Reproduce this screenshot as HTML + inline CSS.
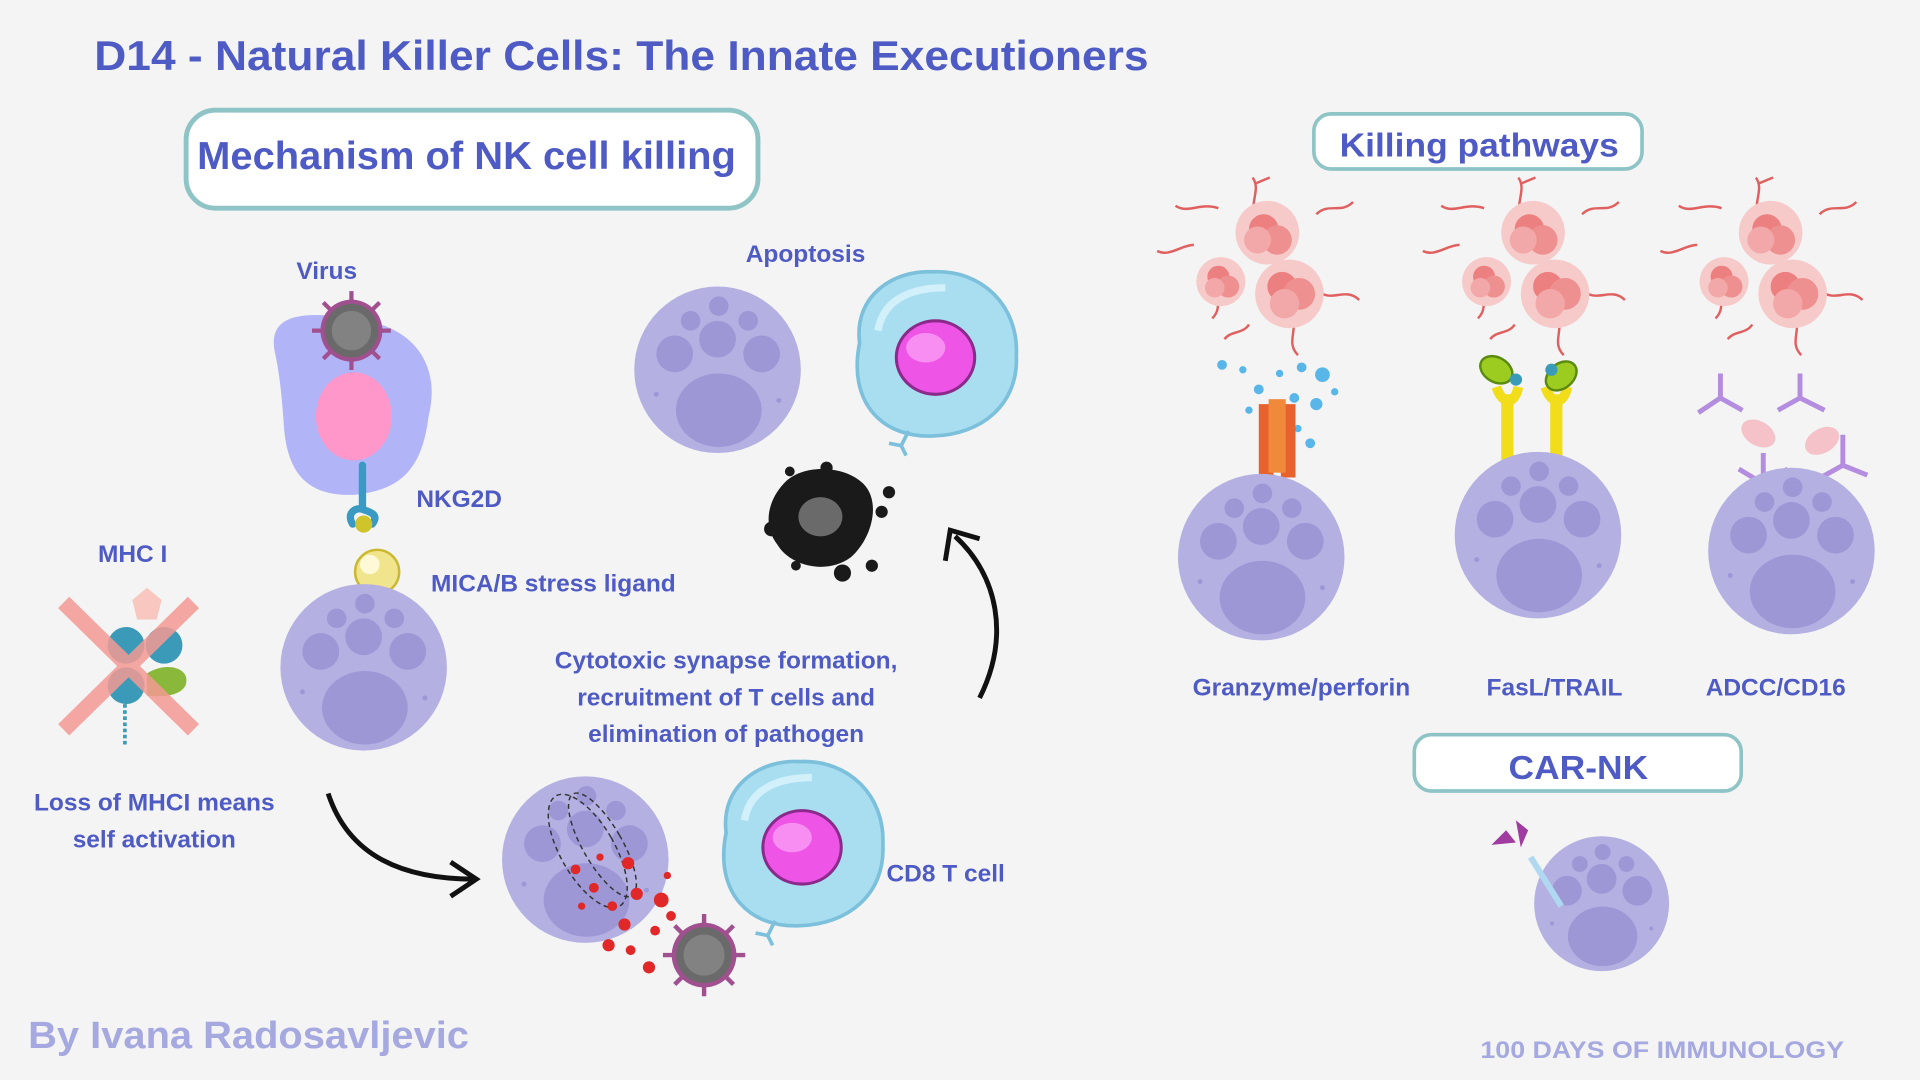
<!DOCTYPE html>
<html><head><meta charset="utf-8"><style>
html,body{margin:0;padding:0;background:#f4f4f4;}
svg{display:block}
text{font-family:"Liberation Sans",sans-serif;font-weight:bold;fill:#4f5bc4}
</style></head><body>
<svg width="1920" height="1080" viewBox="0 0 1568 882" xmlns="http://www.w3.org/2000/svg">
<defs>
<g id="nk">
<circle r="68" fill="#b4b0e2"/>
<ellipse cx="1" cy="33" rx="35" ry="30" fill="#9d97d6"/>
<circle cx="-35" cy="-13" r="15" fill="#9d97d6"/>
<circle cx="0" cy="-25" r="15" fill="#9d97d6"/>
<circle cx="36" cy="-13" r="15" fill="#9d97d6"/>
<circle cx="-22" cy="-40" r="8" fill="#9d97d6"/>
<circle cx="1" cy="-52" r="8" fill="#9d97d6"/>
<circle cx="25" cy="-40" r="8" fill="#9d97d6"/>
<circle cx="-50" cy="20" r="2" fill="#9d97d6"/>
<circle cx="50" cy="25" r="2" fill="#9d97d6"/>
</g>
<g id="tc">
<path d="M-60,-10 C-65,-50 -30,-70 0,-68 C40,-70 70,-40 68,0 C70,40 40,65 0,66 C-40,68 -70,40 -60,-10Z" fill="#a8def0" stroke="#7cc0dc" stroke-width="3"/>
<path d="M-45,-20 C-40,-50 -10,-55 10,-55" stroke="#d2f0fa" stroke-width="6" fill="none"/>
<ellipse cx="2" cy="2" rx="32" ry="30" fill="#ee55e6" stroke="#8a2a8a" stroke-width="2.5"/>
<ellipse cx="-6" cy="-6" rx="16" ry="12" fill="#f98ef2"/>
<path d="M-20,62 l-6,12 M-26,74 l-10,-2 M-26,74 l4,8" stroke="#7cc0dc" stroke-width="3" fill="none"/>
</g>
<g id="virus">
<circle r="22" fill="#a0508e"/>
<circle r="19" fill="#6a6a6a"/>
<circle r="14" fill="#888" opacity="0.8"/>
<g stroke="#a0508e" stroke-width="3">
<path d="M0,-20v-8M0,20v8M-20,0h-8M20,0h8M14,14l6,6M-14,-14l-6,-6M14,-14l6,-6M-14,14l-6,6"/>
</g>
</g>
<g id="tumor">
<g stroke="#e06060" stroke-width="2" fill="none">
<path d="M-10,-40 c-5,-15 5,-25 -2,-35 M-10,-70 l12,-5 M-40,-50 c-15,-5 -25,5 -35,-2 M-60,-20 c-10,0 -20,10 -30,5 M-40,10 c-5,10 5,20 -5,30 M40,-45 c10,-10 20,0 30,-10 M45,20 c10,5 20,-5 30,5 M20,40 c5,10 -5,20 5,30 M-15,45 c-5,8 -15,5 -20,12"/>
</g>
<circle cx="0" cy="-30" r="26" fill="#f7caca"/>
<circle cx="-3" cy="-33" r="12" fill="#ec7f7f"/><circle cx="8" cy="-24" r="12" fill="#ef9090"/><circle cx="-8" cy="-24" r="11" fill="#f2a8a8"/>
<circle cx="-38" cy="10" r="20" fill="#f7caca"/>
<circle cx="-40" cy="6" r="9" fill="#ec7f7f"/><circle cx="-32" cy="14" r="9" fill="#ef9090"/><circle cx="-43" cy="15" r="8" fill="#f2a8a8"/>
<circle cx="18" cy="20" r="28" fill="#f7caca"/>
<circle cx="12" cy="14" r="12" fill="#ec7f7f"/><circle cx="26" cy="20" r="13" fill="#ef9090"/><circle cx="14" cy="28" r="12" fill="#f2a8a8"/>
</g>
</defs>

<text x="77" y="57" font-size="34" textLength="861" lengthAdjust="spacingAndGlyphs">D14 -  Natural Killer Cells: The Innate Executioners</text>

<rect x="152" y="90" width="467" height="80" rx="24" fill="#fff" stroke="#8ec4c6" stroke-width="4"/>
<text x="161" y="138" font-size="32" textLength="440" lengthAdjust="spacingAndGlyphs">Mechanism of NK cell killing</text>
<rect x="1073" y="93" width="268" height="45" rx="14" fill="#fff" stroke="#8ec4c6" stroke-width="3"/>
<text x="1094" y="128" font-size="27" textLength="228" lengthAdjust="spacingAndGlyphs">Killing pathways</text>
<rect x="1155" y="600" width="267" height="46" rx="14" fill="#fff" stroke="#8ec4c6" stroke-width="3"/>
<text x="1232" y="636" font-size="27" textLength="114" lengthAdjust="spacingAndGlyphs">CAR-NK</text>

<!-- infected cell -->
<text x="242" y="228" font-size="20">Virus</text>
<path d="M225,290 C215,250 260,255 300,262 C340,270 360,300 350,340 C345,380 330,400 290,404 C250,406 235,385 232,350 C230,320 228,305 225,290Z" fill="#b1b5f7"/>
<ellipse cx="289" cy="340" rx="31" ry="36" fill="#ff97cb"/>
<use href="#virus" x="287" y="270" transform="translate(287 270) scale(1.15) translate(-287 -270)"/>
<path d="M296,380 v36 M288,428 c-6,-10 4,-14 8,-12 c6,2 14,4 8,12" stroke="#3a9ac4" stroke-width="6" fill="none" stroke-linecap="round"/>
<circle cx="297" cy="428" r="7" fill="#cfc52a"/>
<text x="340" y="414" font-size="20">NKG2D</text>
<circle cx="308" cy="467" r="18" fill="#f0e48c" stroke="#c9b830" stroke-width="2"/>
<circle cx="302" cy="461" r="8" fill="#fff9d8"/>
<text x="352" y="483" font-size="20">MICA/B stress ligand</text>
<use href="#nk" x="297" y="545"/>

<!-- MHC -->
<text x="80" y="459" font-size="20">MHC I</text>
<path d="M120,480 l12,10 -4,16 h-16 l-4,-16z" fill="#f8c8c0"/>
<circle cx="103" cy="527" r="15" fill="#3a9ab8"/><circle cx="134" cy="527" r="15" fill="#3a9ab8"/>
<circle cx="103" cy="560" r="15" fill="#3a9ab8"/><path d="M120,550 c15,-10 35,-5 32,8 c-2,10 -20,12 -32,10z" fill="#8ab83a"/>
<path d="M102,575 v35" stroke="#3a9ab8" stroke-width="3" stroke-dasharray="3 2"/>
<path d="M52,492 L158,596 M158,492 L52,596" stroke="#f49a94" stroke-width="13" opacity="0.85"/>
<text x="126" y="662" font-size="20" text-anchor="middle">Loss of MHCI means</text>
<text x="126" y="692" font-size="20" text-anchor="middle">self activation</text>

<path d="M268,648 C285,700 330,718 388,718" stroke="#111" stroke-width="4" fill="none"/>
<path d="M368,704 L389,718 L368,732" stroke="#111" stroke-width="4" fill="none"/>

<!-- synapse -->
<use href="#nk" x="478" y="702"/>
<ellipse cx="480" cy="695" rx="22" ry="52" transform="rotate(-30 480 695)" fill="none" stroke="#333" stroke-width="1.2" stroke-dasharray="4 3"/>
<ellipse cx="492" cy="690" rx="16" ry="48" transform="rotate(-30 492 690)" fill="none" stroke="#333" stroke-width="1.2" stroke-dasharray="4 3"/>
<g fill="#e02828">
<circle cx="470" cy="710" r="4"/><circle cx="485" cy="725" r="4"/><circle cx="500" cy="740" r="4"/><circle cx="513" cy="705" r="5"/><circle cx="520" cy="730" r="5"/><circle cx="540" cy="735" r="6"/><circle cx="545" cy="715" r="3"/><circle cx="497" cy="772" r="5"/><circle cx="515" cy="776" r="4"/><circle cx="530" cy="790" r="5"/><circle cx="510" cy="755" r="5"/><circle cx="535" cy="760" r="4"/><circle cx="490" cy="700" r="3"/><circle cx="475" cy="740" r="3"/><circle cx="548" cy="748" r="4"/>
</g>
<use href="#virus" transform="translate(575 780) scale(1.2)"/>
<use href="#tc" x="653" y="690"/>
<text x="724" y="720" font-size="20">CD8 T cell</text>
<text x="593" y="546" font-size="20" text-anchor="middle">Cytotoxic synapse formation,</text>
<text x="593" y="576" font-size="20" text-anchor="middle">recruitment of T cells and</text>
<text x="593" y="606" font-size="20" text-anchor="middle">elimination of pathogen</text>

<path d="M800,570 C825,520 815,470 780,438" stroke="#111" stroke-width="4" fill="none"/>
<path d="M772,458 L776,433 L800,440" stroke="#111" stroke-width="4" fill="none"/>

<!-- apoptosis -->
<text x="609" y="214" font-size="20">Apoptosis</text>
<use href="#nk" x="586" y="302"/>
<use href="#tc" x="762" y="290"/>
<path d="M640,395 C655,378 690,380 705,395 C720,410 712,440 695,455 C675,470 645,462 635,445 C622,428 628,408 640,395Z" fill="#1a1a1a"/>
<ellipse cx="670" cy="422" rx="18" ry="16" fill="#6a6a6a"/>
<g fill="#1a1a1a"><circle cx="630" cy="432" r="6"/><circle cx="720" cy="418" r="5"/><circle cx="726" cy="402" r="5"/><circle cx="712" cy="462" r="5"/><circle cx="688" cy="468" r="7"/><circle cx="650" cy="462" r="4"/><circle cx="645" cy="385" r="4"/><circle cx="675" cy="382" r="5"/></g>

<!-- pathways -->
<use href="#tumor" x="1035" y="220"/>
<use href="#tumor" x="1252" y="220"/>
<use href="#tumor" x="1446" y="220"/>
<g fill="#58b6e8"><circle cx="998" cy="298" r="4"/><circle cx="1015" cy="302" r="3"/><circle cx="1028" cy="318" r="4"/><circle cx="1045" cy="305" r="3"/><circle cx="1063" cy="300" r="4"/><circle cx="1080" cy="306" r="6"/><circle cx="1075" cy="330" r="5"/><circle cx="1057" cy="325" r="4"/><circle cx="1040" cy="345" r="4"/><circle cx="1060" cy="350" r="3"/><circle cx="1070" cy="362" r="4"/><circle cx="1090" cy="320" r="3"/><circle cx="1020" cy="335" r="3"/></g>
<path d="M1028,330 h12 v60 h-12z M1046,330 h12 v60 h-12z" fill="#e8622e"/>
<rect x="1036" y="326" width="14" height="60" fill="#f08a3a"/>
<use href="#nk" x="1030" y="455"/>
<path d="M1222,316 c5,15 15,15 18,0 M1262,316 c5,15 15,15 18,0" stroke="#f2dd1a" stroke-width="8" fill="none"/>
<rect x="1226" y="322" width="10" height="55" fill="#f2dd1a"/><rect x="1266" y="322" width="10" height="55" fill="#f2dd1a"/>
<ellipse cx="1222" cy="302" rx="14" ry="10" transform="rotate(30 1222 302)" fill="#9ccc20" stroke="#5a8a10" stroke-width="2"/>
<ellipse cx="1275" cy="307" rx="14" ry="10" transform="rotate(-40 1275 307)" fill="#9ccc20" stroke="#5a8a10" stroke-width="2"/>
<circle cx="1238" cy="310" r="5" fill="#3a9ab8"/><circle cx="1267" cy="302" r="5" fill="#3a9ab8"/>
<use href="#nk" x="1256" y="437"/>
<g stroke="#b48ce0" stroke-width="4" fill="none">
<path d="M1405,305 v20 l-18,12 M1405,325 l18,10 M1470,305 v20 l-18,10 M1470,325 l20,10 M1440,370 v25 l-20,-12 M1440,395 l20,-12 M1505,355 v25 l-18,10 M1505,380 l20,8"/>
</g>
<ellipse cx="1436" cy="354" rx="15" ry="10" transform="rotate(30 1436 354)" fill="#f4c2c8"/>
<ellipse cx="1488" cy="360" rx="15" ry="10" transform="rotate(-30 1488 360)" fill="#f4c2c8"/>
<use href="#nk" x="1463" y="450"/>
<text x="974" y="568" font-size="20">Granzyme/perforin</text>
<text x="1214" y="568" font-size="20">FasL/TRAIL</text>
<text x="1393" y="568" font-size="20">ADCC/CD16</text>

<!-- CAR NK -->
<use href="#nk" transform="translate(1308 738) scale(0.81)"/>
<path d="M1250,700 l25,40" stroke="#b0d8f0" stroke-width="5"/>
<path d="M1218,690 l12,-12 8,10z M1238,670 l10,8 -6,14z" fill="#a03ca0"/>

<text x="23" y="856" font-size="31" fill="#a5a9e0" style="fill:#a5a9e0" textLength="360" lengthAdjust="spacingAndGlyphs">By Ivana Radosavljevic</text>
<text x="1209" y="864" font-size="20" style="fill:#a5a9e0" textLength="297" lengthAdjust="spacingAndGlyphs">100 DAYS OF IMMUNOLOGY</text>
</svg>
</body></html>
